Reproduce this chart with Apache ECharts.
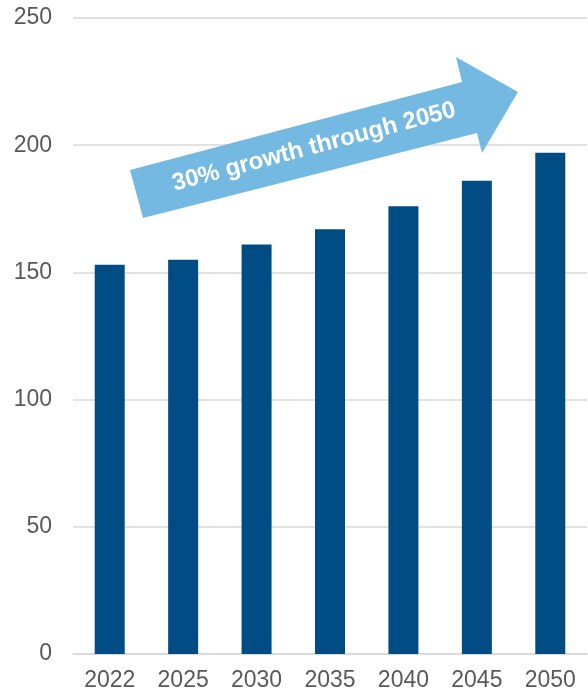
<!DOCTYPE html>
<html><head><meta charset="utf-8">
<script src="https://cdn.jsdelivr.net/npm/echarts@6/dist/echarts.min.js"></script>
<style>html,body{margin:0;padding:0;background:#fff}#c{width:588px;height:693px}</style>
</head><body><div id="c"></div>
<script>
const categories = ['2022','2025','2030','2035','2040','2045','2050'];
const values = [153, 155, 161, 167, 176, 186, 197];
const yTicks = { min: 0, max: 250, interval: 50 };
const arrowText = '30% growth through 2050';

const chart = echarts.init(document.getElementById('c'));
chart.setOption({
  animation: false,
  grid: { left: 73, right: 1, top: 18, bottom: 39, containLabel: false },
  xAxis: {
    type: 'category', data: categories,
    axisLine: { lineStyle: { color: '#d9d9d9', width: 1.5 } },
    axisTick: { show: false },
    axisLabel: { color: '#595959', fontSize: 23, fontFamily: 'Liberation Sans, Arial, sans-serif', margin: 15 }
  },
  yAxis: {
    type: 'value', min: yTicks.min, max: yTicks.max, interval: yTicks.interval,
    axisLine: { show: false }, axisTick: { show: false },
    splitLine: { lineStyle: { color: '#d9d9d9', width: 1.5 } },
    axisLabel: { color: '#595959', fontSize: 23, fontFamily: 'Liberation Sans, Arial, sans-serif', margin: 21 }
  },
  series: [{
    type: 'bar', data: values, barWidth: 30,
    itemStyle: { color: '#004C84' }
  }],
  graphic: [
    {
      type: 'polygon', z: 100,
      shape: { points: [[130,170],[462,82],[456,57],[518,92],[482,153],[477,133],[143,218]] },
      style: { fill: '#74B9E1' }
    },
    {
      type: 'text', z: 101, x: 314, y: 147, rotation: 14.8 * Math.PI / 180,
      style: { text: arrowText, fill: '#ffffff', font: 'bold 24px "Liberation Sans", Arial, sans-serif',
        align: 'center', verticalAlign: 'middle' }
    }
  ]
});
</script></body></html>
